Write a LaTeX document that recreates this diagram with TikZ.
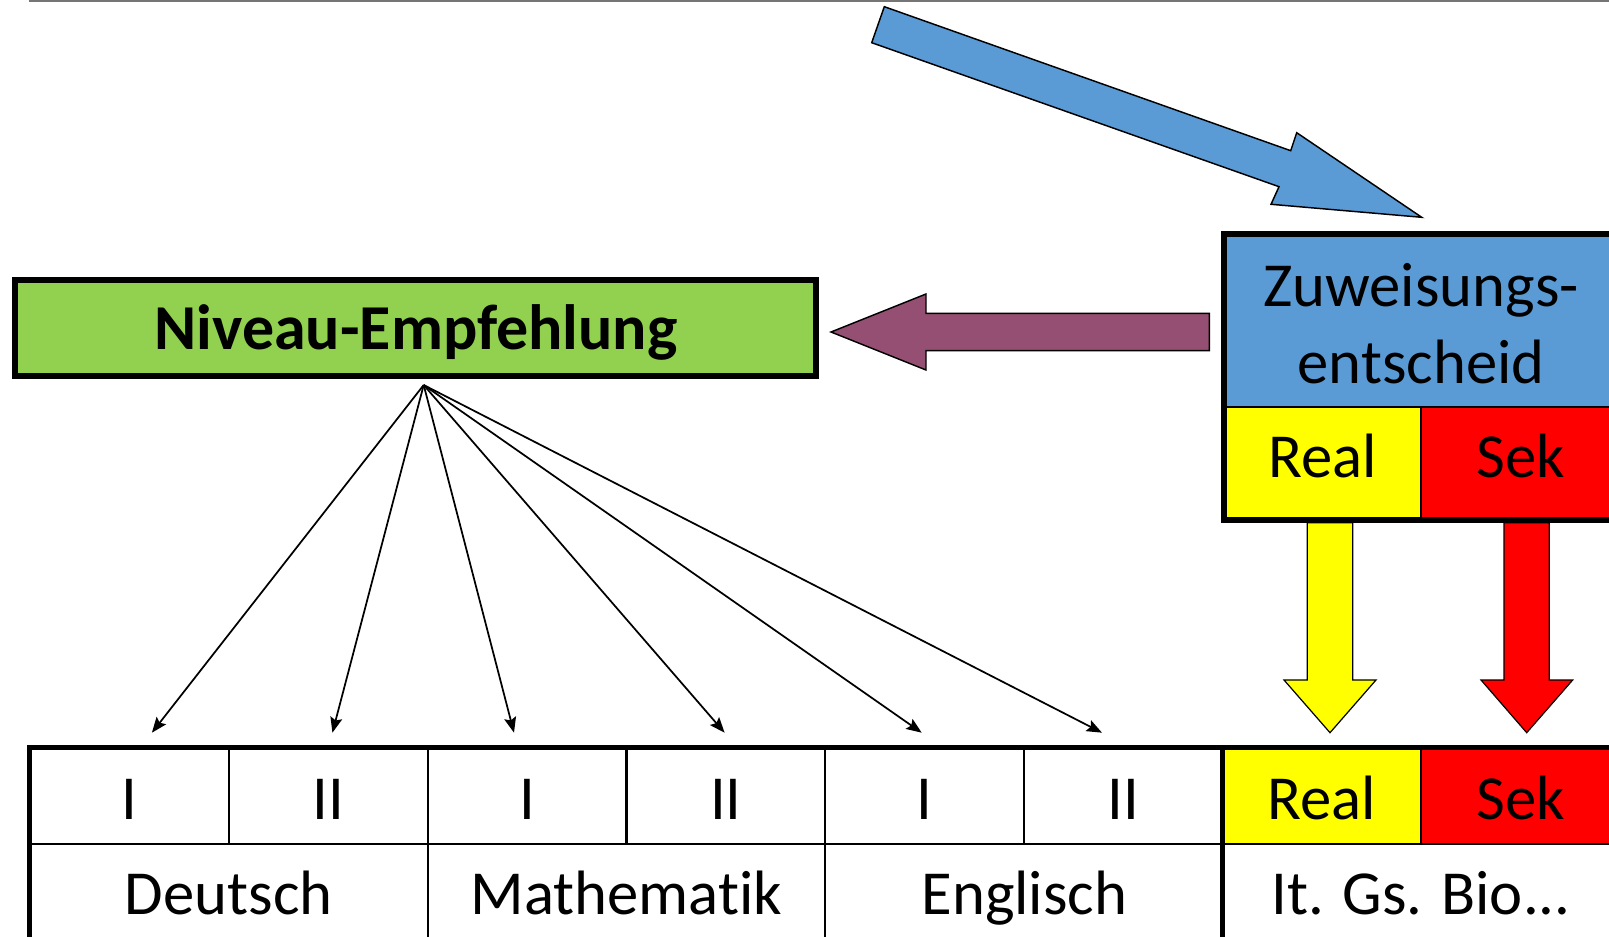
\documentclass[tikz,border=0pt]{standalone}
\usepackage{fontspec}
\setmainfont{Carlito}[Ligatures=CommonOff]
\usetikzlibrary{arrows.meta}
\definecolor{zblue}{HTML}{5B9BD5}
\definecolor{ngreen}{HTML}{92D050}
\definecolor{bpurple}{HTML}{954F72}
\definecolor{ryellow}{HTML}{FFFF00}
\definecolor{sred}{HTML}{FF0000}
\definecolor{rulegray}{HTML}{767676}
\begin{document}
\begin{tikzpicture}[x=0.75pt,y=-0.75pt,
  lbl/.style={font=\fontsize{47}{57.75}\selectfont, inner sep=0pt, anchor=base},
  heavy/.style={line width=4.1pt, line join=miter},
  light/.style={line width=1.6pt},
  blockarrow/.style={draw=black, line width=1.1pt, line join=miter},
  fanarrow/.style={line width=1.3pt, -{Stealth[length=11.5pt,width=9pt,inset=2pt]}}]
\useasboundingbox (0,0) rectangle (1609,937);

% rule along the top edge
\draw[rulegray, line width=1.5pt] (28.7,0.8) -- (1609,0.8);

% big blue arrow pointing at the decision box
\path[blockarrow, fill=zblue] (884.3,6.7) -- (1290.7,150.7) -- (1296.7,132.7)
  -- (1421.7,217.3) -- (1271,204.3) -- (1279,186.7) -- (871.7,42.7) -- cycle;

% decision box: blue header, Real / Sek below
\fill[zblue] (1224,234) rectangle (1620,407);
\fill[ryellow] (1224,407) rectangle (1421,520);
\fill[sred] (1421,407) rectangle (1620,520);
\draw[light] (1224,407) -- (1620,407);
\draw[light] (1421,407) -- (1421,520);
\draw[line width=3.8pt] (1224,234) rectangle (1620,520);
\node[lbl] (zuwA) at (1421,306.5) {Zuweisungs-};
\node[lbl] (zuwB) at (1421,384) {entscheid};
\node[lbl] (zreal) at (1322.5,478) {Real};
\node[lbl] (zsek) at (1520.8,478) {Sek};

% recommendation box
\node[draw, fill=ngreen, line width=4.5pt, minimum width=601pt, minimum height=72.4pt,
      inner sep=0pt] (niveau) at (415.3,328) {};
\node[lbl, font=\fontsize{48}{58}\selectfont\bfseries] (niveautxt) at (416,350) {Niveau-Empfehlung};

% purple arrow from the decision box to the recommendation
\path[blockarrow, fill=bpurple] (831,332) -- (926,294) -- (926,313.3) -- (1209.3,313.3)
  -- (1209.3,350.7) -- (926,350.7) -- (926,370) -- cycle;

% fan of arrows from the recommendation to the levels
\coordinate (fan) at (423.7,385);
\coordinate (tA) at (151.9,732.7);
\coordinate (tB) at (332.4,732.7);
\coordinate (tC) at (514,732.7);
\coordinate (tD) at (724.6,732.7);
\coordinate (tE) at (921.7,732.7);
\coordinate (tF) at (1102,732.7);
\foreach \t in {tA,tB,tC,tD,tE,tF}
  \draw[fanarrow] (fan) -- (\t);

% downward arrows Real and Sek
\path[blockarrow, line width=0.9pt, fill=ryellow] (1307.3,522.7) -- (1352.7,522.7) -- (1352.7,680)
  -- (1376,680) -- (1330,732.7) -- (1284,680) -- (1307.3,680) -- cycle;
\path[blockarrow, line width=0.9pt, fill=sred] (1504,522.7) -- (1549.3,522.7) -- (1549.3,680)
  -- (1572.7,680) -- (1526.7,732.7) -- (1481,680) -- (1504,680) -- cycle;

% table of subjects and levels
\fill[ryellow] (1222.3,747.7) rectangle (1421,844);
\fill[sred] (1421,747.7) rectangle (1620,844);
\draw[light] (29.7,844) -- (1620,844);
\foreach \x in {228.7,626.5,1023.6,1421}
  \draw[light] (\x,747.7) -- (\x,844);
\foreach \x in {427.6,825.2}
  \draw[light] (\x,747.7) -- (\x,1000);
\draw[heavy] (29.7,1000) -- (29.7,747.7) -- (1620,747.7);
\draw[heavy] (1222.3,747.7) -- (1222.3,1000);

\node[lbl] (dI)  at (129.2,819.5) {I};
\node[lbl] (dII) at (328.1,819.5) {II};
\node[lbl] (mI)  at (527,819.5) {I};
\node[lbl] (mII) at (725.8,819.5) {II};
\node[lbl] (eI)  at (924.4,819.5) {I};
\node[lbl] (eII) at (1123,819.5) {II};
\node[lbl] (treal) at (1321.7,819.5) {Real};
\node[lbl] (tsek)  at (1520.5,819.5) {Sek};
\node[lbl] (deu) at (228.7,914.5) {Deutsch};
\node[lbl] (mat) at (626.5,914.5) {Mathematik};
\node[lbl] (eng) at (1024.4,914.5) {Englisch};
\node[lbl] (rest) at (1421,914.5) {It. Gs. Bio...};
\end{tikzpicture}
\end{document}
